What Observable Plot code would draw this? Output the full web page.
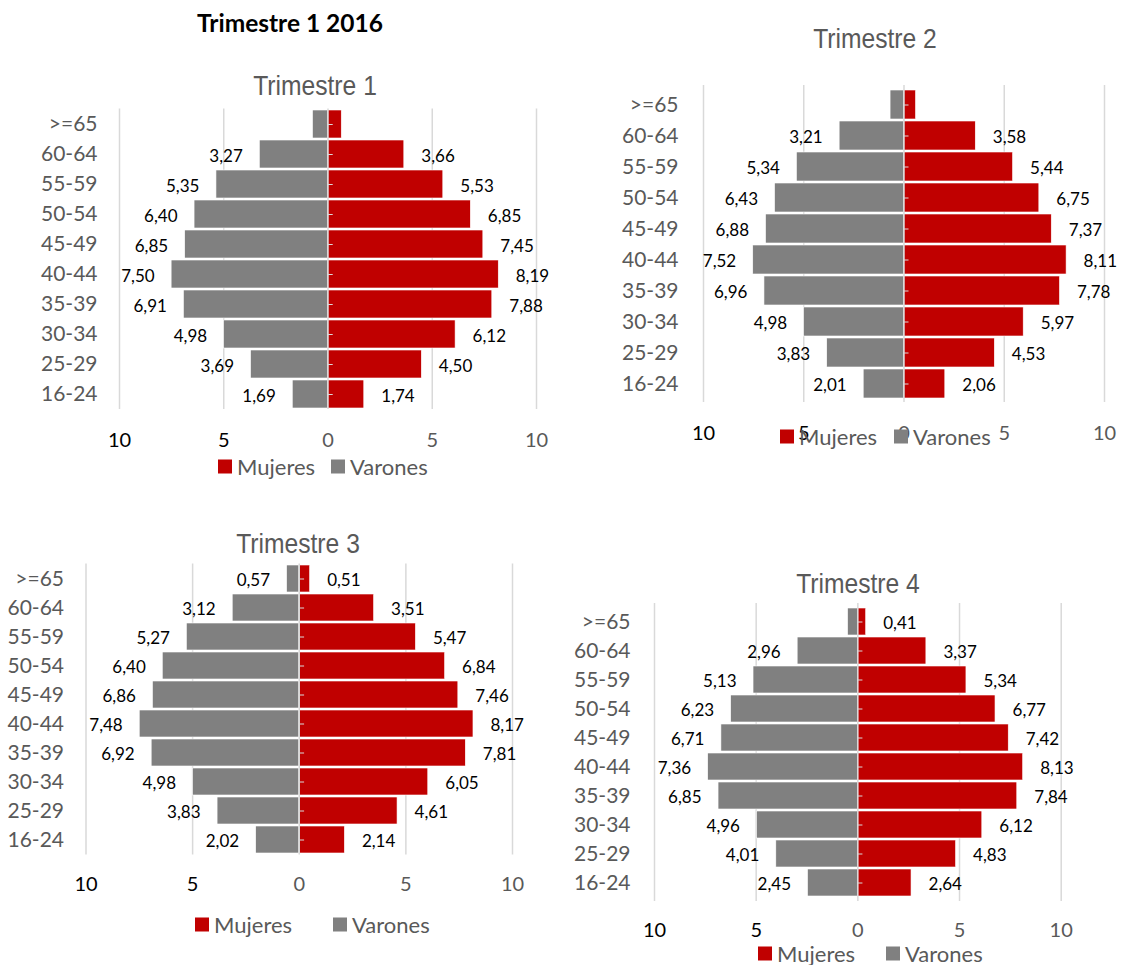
<!DOCTYPE html>
<html><head><meta charset="utf-8">
<script src="https://cdn.jsdelivr.net/npm/d3@7"></script>
<script src="https://cdn.jsdelivr.net/npm/@observablehq/plot@0.6"></script>
<style>
body{margin:0;background:#fff;}
#page{position:relative;width:1122px;height:965px;overflow:hidden;font-family:Lato,"Open Sans",sans-serif;}
#page svg{position:absolute;background:transparent !important;}
.mtitle{position:absolute;left:290px;top:22px;transform:translate(-50%,-50%);font-weight:bold;font-size:24.5px;color:#000;white-space:nowrap;}
.ptitle{position:absolute;font-family:"Liberation Sans",Arial,sans-serif;color:#595959;font-size:28px;white-space:nowrap;transform:translate(-50%,-50%) scaleX(0.88);}
.legend{position:absolute;display:flex;align-items:center;font-size:22px;color:#595959;white-space:nowrap;transform:translateY(-50%);}
.sw{width:14px;height:14px;display:inline-block;margin-right:5px;}
</style></head>
<body><div id="page"></div>
<script>
// ---- data ----
const categorias = [">=65","60-64","55-59","50-54","45-49","40-44","35-39","30-34","25-29","16-24"];
const mujeresT1 = [0.66, 3.66, 5.53, 6.85, 7.45, 8.19, 7.88, 6.12, 4.50, 1.74];
const varonesT1 = [0.72, 3.27, 5.35, 6.40, 6.85, 7.50, 6.91, 4.98, 3.69, 1.69];
const mujeresT2 = [0.60, 3.58, 5.44, 6.75, 7.37, 8.11, 7.78, 5.97, 4.53, 2.06];
const varonesT2 = [0.67, 3.21, 5.34, 6.43, 6.88, 7.52, 6.96, 4.98, 3.83, 2.01];
const mujeresT3 = [0.51, 3.51, 5.47, 6.84, 7.46, 8.17, 7.81, 6.05, 4.61, 2.14];
const varonesT3 = [0.57, 3.12, 5.27, 6.40, 6.86, 7.48, 6.92, 4.98, 3.83, 2.02];
const mujeresT4 = [0.41, 3.37, 5.34, 6.77, 7.42, 8.13, 7.84, 6.12, 4.83, 2.64];
const varonesT4 = [0.48, 2.96, 5.13, 6.23, 6.71, 7.36, 6.85, 4.96, 4.01, 2.45];
// categories whose data label is not shown
const sinEtiquetaM = {T1: [">=65"], T2: [">=65"], T3: [], T4: []};
const sinEtiquetaV = {T1: [">=65"], T2: [">=65"], T3: [], T4: [">=65"]};
const ticksX = [-10, -5, 0, 5, 10];
const series = ["Mujeres", "Varones"];
const tituloGeneral = "Trimestre 1 2016";

// ---- style ----
const RED = "#C00000", GRAY = "#808080", GRID = "#D9D9D9", TXT = "#595959";
const page = document.getElementById("page");
const fmt = v => v.toFixed(2).replace(".", ",");

const mt = document.createElement("div");
mt.className = "mtitle"; mt.textContent = tituloGeneral; page.appendChild(mt);

const paneles = [
  {key:"T1", titulo:"Trimestre 1", M:mujeresT1, V:varonesT1,
   left:0, top:100, width:560, height:360, ml:119, mr:24, mtop:8.5, mb:51, tickDy:31, pad:22,
   tx:315, ty:86, lx:218, ly:466, gap:16},
  {key:"T2", titulo:"Trimestre 2", M:mujeresT2, V:varonesT2,
   left:560, top:60, width:562, height:400, ml:143, mr:18, mtop:25, mb:58, tickDy:31, pad:25,
   tx:875, ty:39, lx:780, ly:436, gap:17},
  {key:"T3", titulo:"Trimestre 3", M:mujeresT3, V:varonesT3,
   left:0, top:540, width:540, height:360, ml:85.5, mr:28, mtop:23.5, mb:45.5, tickDy:30, pad:22,
   tx:298, ty:544, lx:195, ly:924, gap:41},
  {key:"T4", titulo:"Trimestre 4", M:mujeresT4, V:varonesT4,
   left:560, top:590, width:562, height:372, ml:94, mr:61.3, mtop:13, mb:61, tickDy:29, pad:24,
   tx:858, ty:584, lx:758, ly:953, gap:31}
];

for (const p of paneles) {
  const rows = [];
  categorias.forEach((c, i) => {
    rows.push({cat: c, serie: "Mujeres", v: p.M[i], x: p.M[i]});
    rows.push({cat: c, serie: "Varones", v: p.V[i], x: -p.V[i]});
  });
  const labM = rows.filter(d => d.serie === "Mujeres" && !sinEtiquetaM[p.key].includes(d.cat));
  const labV = rows.filter(d => d.serie === "Varones" && !sinEtiquetaV[p.key].includes(d.cat));
  const svg = Plot.plot({
    width: p.width, height: p.height,
    marginLeft: p.ml, marginRight: p.mr, marginTop: p.mtop, marginBottom: p.mb,
    style: {fontFamily: "Lato, 'Open Sans', sans-serif", fontSize: "17px", background: "transparent", overflow: "visible"},
    x: {domain: [-10, 10], axis: null},
    y: {domain: categorias, paddingInner: 0.07, paddingOuter: 0.01, axis: null},
    color: {type: "identity"},
    marks: [
      Plot.ruleX(ticksX.filter(t => t !== 0), {stroke: GRID, strokeWidth: 1.5}),
      Plot.barX(rows, {y: "cat", x1: 0, x2: "x", fill: d => d.serie === "Mujeres" ? RED : GRAY, stroke: "white", strokeWidth: 0.6}),
      Plot.ruleX([0], {stroke: GRID, strokeWidth: 1.5}),
      Plot.ruleY(categorias, {y: d => d, x1: 0, x2: 0.25, stroke: GRID, strokeWidth: 1}),
      Plot.axisY({tickSize: 0, tickPadding: p.pad, fill: TXT, fontSize: 21, label: null}),
      Plot.text(labV, {y: "cat", x: "x", text: d => fmt(d.v), textAnchor: "end", dx: -17, dy: 2, fill: "#000", fontSize: 17}),
      Plot.text(labM, {y: "cat", x: "x", text: d => fmt(d.v), textAnchor: "start", dx: 17, dy: 2, fill: "#000", fontSize: 17}),
      Plot.text(ticksX, {x: d => d, text: d => String(Math.abs(d)), frameAnchor: "bottom", lineAnchor: "middle", dy: p.tickDy, fill: d => d < 0 ? "#000" : TXT, fontSize: 20})
    ]
  });
  svg.style.left = p.left + "px";
  svg.style.top = p.top + "px";
  page.appendChild(svg);

  const t = document.createElement("div");
  t.className = "ptitle"; t.textContent = p.titulo;
  t.style.left = p.tx + "px"; t.style.top = p.ty + "px";
  page.appendChild(t);

  const lg = document.createElement("div");
  lg.className = "legend";
  lg.style.left = p.lx + "px"; lg.style.top = p.ly + "px";
  series.forEach((s, i) => {
    const sw = document.createElement("span");
    sw.className = "sw"; sw.style.background = s === "Mujeres" ? RED : GRAY;
    if (i > 0) sw.style.marginLeft = p.gap + "px";
    const tx = document.createElement("span"); tx.textContent = s;
    lg.appendChild(sw); lg.appendChild(tx);
  });
  page.appendChild(lg);
}
</script>
</body></html>
